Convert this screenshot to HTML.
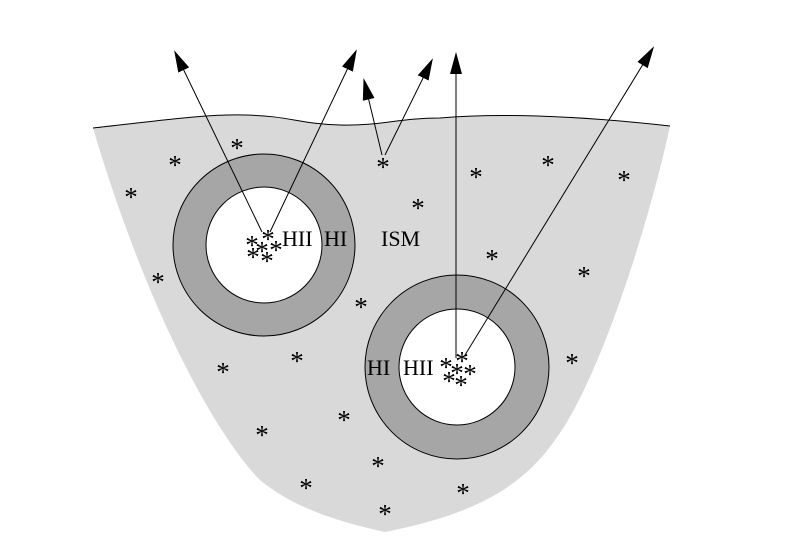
<!DOCTYPE html>
<html><head><style>body{margin:0;background:#fff}svg{display:block}</style></head>
<body>
<svg width="796" height="554" viewBox="0 0 796 554" xmlns="http://www.w3.org/2000/svg">
<defs><marker id="a" markerWidth="22" markerHeight="12" refX="20" refY="6" orient="auto" markerUnits="userSpaceOnUse" viewBox="0 0 22 12"><path d="M0,0 L22,6 L0,12 Z" fill="#000"/></marker></defs>
<path d="M93,128 C150,122 200,114 245,115 C290,116 300,124 340,125 C380,126 400,118 440,118 C500,113 580,116 670,126 C650,220 600,380 555,440 C520,490 470,515 385,532 C330,520 290,505 260,480 C220,440 150,320 93,128 Z" fill="#d9d9d9"/>
<path d="M93,128 C150,122 200,114 245,115 C290,116 300,124 340,125 C380,126 400,118 440,118 C500,113 580,116 670,126" fill="none" stroke="#000" stroke-width="1"/>
<circle cx="264" cy="245" r="91" fill="#a6a6a6" stroke="#000"/>
<circle cx="264" cy="245" r="58" fill="#fff" stroke="#000"/>
<circle cx="457" cy="367" r="92" fill="#a6a6a6" stroke="#000"/>
<circle cx="457" cy="367" r="58" fill="#fff" stroke="#000"/>
<g stroke="#000" stroke-width="1" fill="none">
<line x1="262" y1="232" x2="175" y2="52" marker-end="url(#a)"/>
<line x1="270" y1="232" x2="356" y2="51" marker-end="url(#a)"/>
<line x1="382" y1="155" x2="364" y2="80" marker-end="url(#a)"/>
<line x1="385" y1="155" x2="432" y2="60" marker-end="url(#a)"/>
<line x1="456" y1="358" x2="456" y2="54" marker-end="url(#a)"/>
<line x1="465" y1="355" x2="653" y2="48" marker-end="url(#a)"/>
</g>
<g font-family="Liberation Serif, serif" font-size="22" fill="#000">
<text x="282" y="246">HII</text><text x="324" y="246">HI</text><text x="381" y="246">ISM</text>
<text x="367" y="375">HI</text><text x="403" y="375">HII</text>
</g>
<g font-family="Liberation Serif, serif" font-size="27" fill="#000" text-anchor="middle">
<text x="237" y="157">*</text><text x="175" y="174">*</text><text x="131" y="206">*</text><text x="383" y="176">*</text>
<text x="418" y="217">*</text><text x="476" y="186">*</text><text x="548" y="174">*</text><text x="624" y="189">*</text>
<text x="492" y="268">*</text><text x="584" y="285">*</text><text x="158" y="291">*</text><text x="361" y="316">*</text>
<text x="297" y="370">*</text><text x="223" y="381">*</text><text x="572" y="372">*</text><text x="344" y="429">*</text>
<text x="262" y="444">*</text><text x="378" y="475">*</text><text x="306" y="497">*</text><text x="463" y="502">*</text>
<text x="385" y="523">*</text>
<text x="252" y="254">*</text><text x="268" y="248">*</text><text x="262" y="260">*</text><text x="276" y="259">*</text><text x="253" y="266">*</text><text x="267" y="270">*</text>
<text x="446" y="376">*</text><text x="462" y="370">*</text><text x="457" y="382">*</text><text x="470" y="383">*</text><text x="449" y="390">*</text><text x="461" y="394">*</text>
</g>
</svg>
</body></html>
